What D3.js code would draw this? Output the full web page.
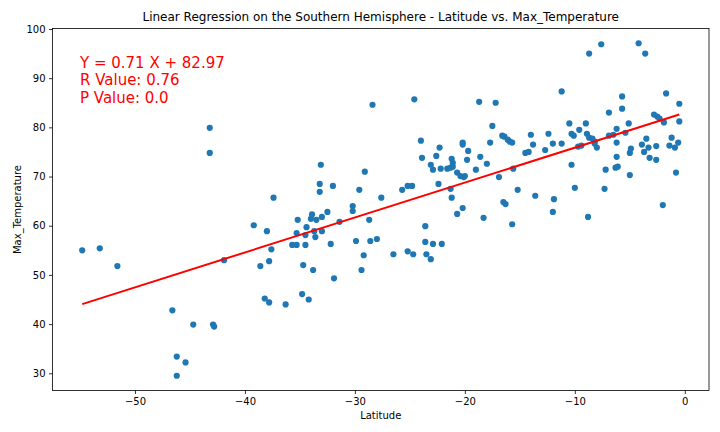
<!DOCTYPE html>
<html>
<head>
<meta charset="utf-8">
<script src="https://cdn.jsdelivr.net/npm/d3@7"></script>
<style>
  body { margin: 0; background: #fff; }
  svg { display: block; font-family: "DejaVu Sans", sans-serif; }
</style>
</head>
<body>
<svg id="chart" width="720" height="432"></svg>
<script>
// southern hemisphere cities: latitude vs max temperature
const latitude = [
  -54.8, -53.2, -51.6, -43.2, -43.2, -37.4, -41.9, -39.2, -38.0, -37.6, -37.8, -38.6, -35.2, -35.3,
  -35.7, -35.3, -34.7, -34.8, -38.2, -37.8, -36.3, -46.6, -44.7, -42.9, -42.8, -46.2, -45.4, -46.2,
  -34.5, -34.4, -34.5, -33.8, -34.2, -33.9, -34.0, -33.5, -33.7, -33.6, -33.0, -33.0, -32.5, -32.2,
  -31.9, -33.1, -33.2, -33.2, -32.0, -31.4, -30.2, -30.2, -29.6, -29.1, -28.7, -29.9, -28.6, -28.0,
  -29.2, -29.4, -27.6, -26.5, -25.7, -25.2, -24.8, -25.2, -24.7, -23.6, -23.6, -23.5, -22.9, -23.1,
  -22.1, -28.4, -24.6, -24.0, -22.3,
  -18.7, -17.2, -11.2, -17.5, -23.9, -22.6, -20.2, -20.2, -19.7, -19.8, -18.6, -18.0, -17.7, -16.6,
  -16.4, -16.1, -15.9, -15.7, -14.0, -13.8, -14.5, -14.2, -12.7, -12.4, -12.0, -11.2, -23.1, -22.9,
  -22.2, -21.6, -21.2, -21.1, -21.1, -21.3, -20.7, -20.4, -20.1, -20.0, -19.0, -16.9, -15.6, -22.4,
  -21.3, -21.2, -20.2, -16.5, -16.3, -15.2, -13.6, -11.9, -20.7, -18.3, -15.7, -12.0,
  -8.7, -7.6, -4.2, -3.6, -5.7, -5.7, -6.9, -1.7, -0.5, -0.5, -2.8, -2.5, -2.3, -1.9,
  -10.5, -9.0, -9.6, -10.3, -10.1, -8.9, -8.7, -8.4, -8.2, -8.2, -6.9, -6.5, -6.2, -5.1,
  -5.4, -6.2, -3.5, -1.2, -0.6, -9.7, -9.4, -8.0, -4.9, -3.9, -3.3, -2.6, -1.4, -0.9,
  -5.0, -3.7, -3.2, -2.6, -6.2, -6.3, -6.1, -7.2, -10.3, -5.0, -0.8, -10.0, -7.3, -2.0, -8.8
];
const maxTemp = [
  55.0, 55.4, 51.8, 79.9, 74.8, 65.7, 53.0, 60.1, 58.9, 55.2, 52.8, 51.8, 61.2, 58.5,
  56.1, 56.1, 52.0, 46.1, 45.2, 44.4, 44.0, 42.8, 39.9, 39.9, 39.5, 33.4, 32.2, 29.5,
  56.1, 59.7, 58.1, 51.0, 45.0, 62.3, 61.4, 61.2, 58.9, 57.7, 61.8, 58.9, 62.8, 56.3,
  49.3, 72.4, 68.5, 66.9, 68.1, 60.8, 64.0, 63.0, 67.3, 71.0, 61.2, 56.9, 56.9, 57.3,
  54.0, 51.0, 65.7, 54.2, 67.3, 68.1, 68.1, 54.8, 54.2, 59.9, 56.7, 54.2, 56.3, 53.2,
  56.3, 84.6, 85.7, 77.3, 75.9,
  85.2, 85.0, 87.3, 80.3, 73.8, 74.2, 76.9, 76.5, 75.2, 73.4, 74.0, 72.6, 76.9, 78.3,
  78.1, 77.5, 77.1, 76.9, 78.5, 76.5, 74.8, 75.0, 75.4, 78.7, 76.7, 76.7, 72.4, 71.4,
  71.6, 71.6, 73.6, 72.8, 72.0, 71.8, 70.8, 70.1, 69.9, 70.1, 71.4, 69.9, 71.6, 68.5,
  67.5, 65.7, 63.6, 64.8, 64.4, 67.3, 66.1, 65.4, 62.4, 61.6, 60.3, 62.8,
  95.0, 96.9, 97.1, 95.0, 86.3, 83.8, 83.0, 86.9, 84.8, 81.2, 82.6, 82.2, 81.8, 81.0,
  80.8, 80.8, 79.5, 78.7, 78.3, 78.7, 77.9, 77.7, 77.1, 76.7, 78.3, 78.5, 79.7, 80.8,
  78.9, 76.9, 77.7, 77.9, 76.9, 76.1, 76.3, 75.9, 75.7, 76.5, 75.9, 76.2, 76.3, 75.9,
  74.8, 75.0, 73.8, 73.4, 74.0, 71.8, 72.0, 71.4, 72.4, 70.3, 70.8, 67.7, 67.5, 64.2, 61.8
];
const xTicks = [-50, -40, -30, -20, -10, 0];
const yTicks = [30, 40, 50, 60, 70, 80, 90, 100];
const slope = 0.71, intercept = 82.97;
const annotation = ["Y = 0.71 X + 82.97", "R Value: 0.76", "P Value: 0.0"];

const svg = d3.select("#chart");
const plot = {left: 52.5, right: 709, top: 28.5, bottom: 390.5};

const points = latitude.map((lat, i) => ({lat: lat, temp: maxTemp[i]}));

const x = d3.scaleLinear().domain([-57.5, 2.2]).range([plot.left, plot.right]);
const y = d3.scaleLinear().domain([26.5, 100.1]).range([plot.bottom, plot.top]);

// axes
const xAxis = svg.append("g")
    .attr("transform", `translate(0,${plot.bottom})`)
    .call(d3.axisBottom(x).tickValues(xTicks).tickFormat(d3.format("d"))
        .tickSize(3.5).tickPadding(3.5));
const yAxis = svg.append("g")
    .attr("transform", `translate(${plot.left},0)`)
    .call(d3.axisLeft(y).tickValues(yTicks).tickFormat(d3.format("d"))
        .tickSize(3.5).tickPadding(3.5));
[xAxis, yAxis].forEach(g => {
    g.select(".domain").remove();
    g.selectAll(".tick line").attr("stroke", "#000").attr("stroke-width", 0.8);
    g.selectAll(".tick text")
        .attr("font-family", "DejaVu Sans, sans-serif")
        .attr("font-size", 10)
        .attr("fill", "#000");
});

// scatter
svg.append("g")
    .selectAll("circle")
    .data(points)
    .join("circle")
    .attr("cx", d => x(d.lat))
    .attr("cy", d => y(d.temp))
    .attr("r", 3.1)
    .attr("fill", "#1f77b4");

// regression line
const latExtent = d3.extent(latitude);
svg.append("path")
    .datum(latExtent)
    .attr("fill", "none")
    .attr("stroke", "red")
    .attr("stroke-width", 2)
    .attr("d", d3.line().x(d => x(d)).y(d => y(slope * d + intercept)));

// frame
svg.append("rect")
    .attr("x", plot.left).attr("y", plot.top)
    .attr("width", plot.right - plot.left).attr("height", plot.bottom - plot.top)
    .attr("fill", "none").attr("stroke", "#000").attr("stroke-width", 0.8);

// annotation, last line baseline sits on (-55, 85)
const note = svg.append("text")
    .attr("font-size", 15)
    .attr("fill", "red");
annotation.forEach((line, i) => {
    note.append("tspan")
        .attr("x", x(-55))
        .attr("y", y(85) - (annotation.length - 1 - i) * 17.5)
        .text(line);
});

// labels
svg.append("text")
    .attr("x", (plot.left + plot.right) / 2).attr("y", 20.5)
    .attr("text-anchor", "middle").attr("font-size", 12)
    .text("Linear Regression on the Southern Hemisphere - Latitude vs. Max_Temperature");
svg.append("text")
    .attr("x", (plot.left + plot.right) / 2).attr("y", 419)
    .attr("text-anchor", "middle").attr("font-size", 10)
    .text("Latitude");
svg.append("text")
    .attr("transform", `translate(20.5,${(plot.top + plot.bottom) / 2}) rotate(-90)`)
    .attr("text-anchor", "middle").attr("font-size", 10)
    .text("Max_Temperature");
</script>
</body>
</html>
